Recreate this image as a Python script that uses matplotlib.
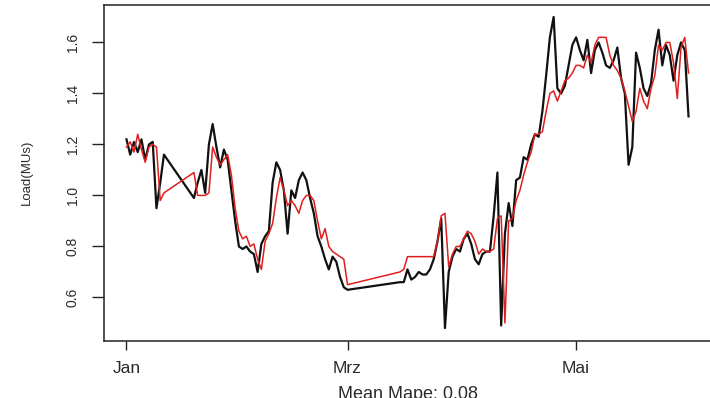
import numpy as np
import pandas as pd
import matplotlib
matplotlib.use("Agg")
import matplotlib.pyplot as plt

plt.rcParams['font.family'] = ['Liberation Sans', 'DejaVu Sans']

# daily observations, with two stretches of missing days
date_blocks = [("2015-01-01", "2015-01-11"),
               ("2015-01-19", "2015-03-01"),
               ("2015-03-15", "2015-05-31")]

actual = [
    # Jan 01 - Jan 11
    1.22, 1.16, 1.21, 1.17, 1.22, 1.14, 1.20, 1.21, 0.95, 1.05, 1.16,
    # Jan 19 - Mar 01
    0.99, 1.05, 1.10, 1.01, 1.20, 1.28, 1.19, 1.11, 1.18, 1.14,
    1.02, 0.90, 0.80, 0.79, 0.80, 0.78, 0.77, 0.70, 0.81, 0.84,
    0.86, 1.05, 1.13, 1.10, 1.02, 0.85, 1.02, 0.99, 1.06, 1.09,
    1.06, 0.99, 0.93, 0.84, 0.80, 0.75, 0.71, 0.76, 0.74, 0.68,
    0.64, 0.63,
    # Mar 15 - May 31
    0.66, 0.66, 0.71, 0.67, 0.68, 0.70, 0.69, 0.69, 0.71, 0.75,
    0.82, 0.91, 0.48, 0.70, 0.76, 0.79, 0.78, 0.83, 0.85, 0.81,
    0.75, 0.73, 0.77, 0.78, 0.78, 0.92, 1.09, 0.49, 0.85, 0.97,
    0.88, 1.06, 1.07, 1.15, 1.14, 1.20, 1.24, 1.23, 1.33, 1.47,
    1.62, 1.70, 1.42, 1.40, 1.43, 1.51, 1.59, 1.62, 1.57, 1.53,
    1.61, 1.48, 1.57, 1.60, 1.56, 1.51, 1.50, 1.53, 1.58, 1.46,
    1.40, 1.12, 1.19, 1.56, 1.50, 1.42, 1.39, 1.44, 1.57, 1.65,
    1.51, 1.59, 1.55, 1.45, 1.55, 1.60, 1.57, 1.31,
]

forecast = [
    # Jan 01 - Jan 11
    1.19, 1.21, 1.17, 1.24, 1.18, 1.13, 1.19, 1.20, 1.19, 0.98, 1.01,
    # Jan 19 - Mar 01
    1.09, 1.00, 1.00, 1.00, 1.01, 1.19, 1.15, 1.12, 1.14, 1.16,
    1.08, 0.95, 0.86, 0.83, 0.84, 0.80, 0.81, 0.75, 0.71, 0.82,
    0.85, 0.89, 0.99, 1.07, 1.02, 0.96, 0.98, 0.96, 0.93, 0.98,
    1.00, 1.00, 0.98, 0.90, 0.83, 0.87, 0.80, 0.78, 0.77, 0.76,
    0.75, 0.65,
    # Mar 15 - May 31
    0.70, 0.71, 0.76, 0.76, 0.76, 0.76, 0.76, 0.76, 0.76, 0.76,
    0.82, 0.92, 0.93, 0.72, 0.77, 0.80, 0.80, 0.83, 0.86, 0.85,
    0.82, 0.77, 0.79, 0.78, 0.78, 0.79, 0.91, 0.92, 0.50, 0.90,
    0.91, 0.98, 1.02, 1.08, 1.13, 1.17, 1.24, 1.24, 1.25, 1.33,
    1.40, 1.41, 1.37, 1.41, 1.45, 1.46, 1.48, 1.51, 1.51, 1.50,
    1.55, 1.52, 1.59, 1.62, 1.62, 1.62, 1.55, 1.51, 1.49, 1.46,
    1.41, 1.35, 1.29, 1.33, 1.42, 1.37, 1.34, 1.42, 1.47, 1.59,
    1.57, 1.60, 1.60, 1.52, 1.38, 1.58, 1.62, 1.48,
]

tick_dates = ["2015-01-01", "2015-03-01", "2015-05-01"]
tick_names = ["Jan", "Mrz", "Mai"]
y_ticks = [0.6, 0.8, 1.0, 1.2, 1.4, 1.6]
mean_mape = 0.08

dates = pd.DatetimeIndex(np.concatenate(
    [pd.date_range(a, b, freq="D").values for a, b in date_blocks]))

fig = plt.figure(figsize=(7.1, 3.98), dpi=100)
ax = fig.add_axes([104 / 710, 1 - 340.5 / 398, 607 / 710, 336 / 398])

ax.plot(dates, actual, color="#111111", lw=1.6)
ax.plot(dates, forecast, color="#e01e1e", lw=1.1)

# R-style 4% padding on both axes
span = (dates[-1] - dates[0])
ax.set_xlim(dates[0] - span * 0.04, dates[-1] + span * 0.04)
lo, hi = min(actual + forecast), max(actual + forecast)
ax.set_ylim(lo - 0.04 * (hi - lo), hi + 0.04 * (hi - lo))

ax.set_xticks(pd.to_datetime(tick_dates))
ax.set_xticklabels(tick_names, fontsize=12.5, color="#2a2a2a")
ax.set_yticks(y_ticks)
ax.set_yticklabels([f"{v:.1f}" for v in y_ticks], fontsize=10,
                   rotation=90, va="center", color="#2a2a2a")

ax.tick_params(axis="x", length=6.5, width=1.0, pad=8, color="#222222")
ax.tick_params(axis="y", length=8.5, width=1.0, pad=9, color="#222222")
for s in ax.spines.values():
    s.set_linewidth(1.1)
    s.set_color("#222222")

fig.text(27 / 710, 1 - 172.5 / 398, "Load(MUs)", rotation=90,
         ha="center", va="center", fontsize=9.5, color="#2a2a2a")
fig.text(408 / 710, 1 - 386 / 398, f"Mean Mape: {mean_mape:.2f}",
         ha="center", va="top", fontsize=13, color="#2a2a2a")

fig.savefig("out.png", dpi=100)
